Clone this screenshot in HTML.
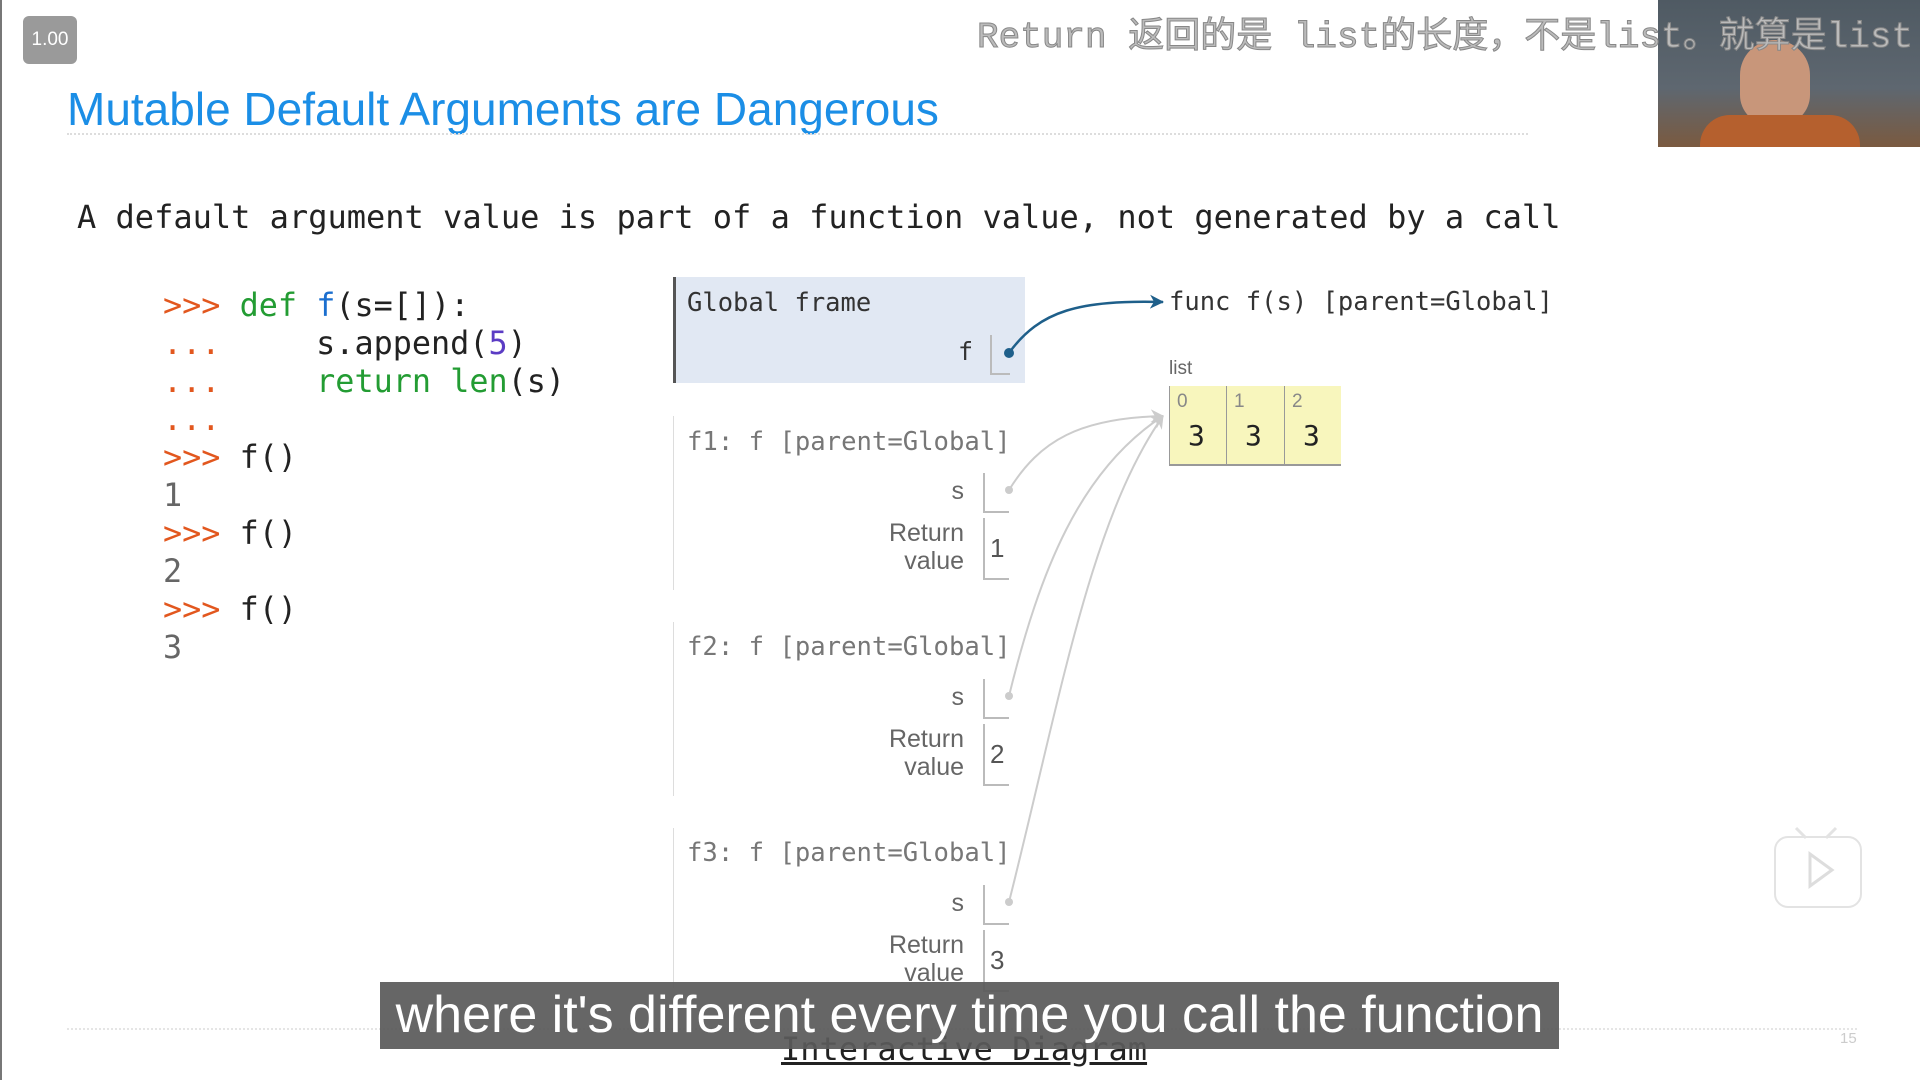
<!DOCTYPE html>
<html><head><meta charset="utf-8"><style>
body{margin:0;width:1920px;height:1080px;background:#fff;position:relative;overflow:hidden;font-family:"Liberation Sans",sans-serif}
.a{position:absolute;white-space:pre}
.m{font-family:"DejaVu Sans Mono","Liberation Mono",monospace}
.code{font-family:"DejaVu Sans Mono","Liberation Mono",monospace;font-size:31.8px;line-height:38px;color:#222}
.o{color:#e2571e}.g{color:#239c33}.b{color:#1b6fcf}.p{color:#5b3cc4}
.fl{font-family:"DejaVu Sans Mono","Liberation Mono",monospace;font-size:25.6px;color:#777}
.lab{font-family:"Liberation Sans",sans-serif;font-size:25px;color:#666;text-align:right}
.cell{position:absolute;border-left:2px solid #bbb;border-bottom:2px solid #bbb}
</style></head><body>
<div class="a" style="left:0;top:0;width:2px;height:1080px;background:#777"></div>
<div class="a" style="left:23px;top:16px;width:54px;height:48px;background:#9a9a9a;border-radius:6px;color:#fff;font-size:19px;text-align:center;line-height:48px">1.00</div>
<div class="a" style="left:67px;top:82px;font-size:46px;color:#1b8ee6">Mutable Default Arguments are Dangerous</div>
<div class="a" style="left:67px;top:133px;width:1461px;border-top:2px dotted #ddd"></div>
<div class="a" style="left:1658px;top:0;width:262px;height:147px;background:linear-gradient(180deg,#4f5a63 0%,#5e6770 60%,#7a5a40 100%)"></div>
<div class="a" style="left:1740px;top:40px;width:70px;height:85px;background:#c8967a;border-radius:35px 35px 30px 30px"></div>
<div class="a" style="left:1700px;top:115px;width:160px;height:32px;background:#b5602e;border-radius:30px 30px 0 0"></div>
<div class="a" style="left:977px;top:6px;font-family:'Liberation Mono','Noto Sans CJK SC',monospace;font-size:36px;color:#bbb;-webkit-text-stroke:1px #888">Return 返回的是 list的长度，不是list。就算是list</div>
<div class="a m" style="left:77px;top:198px;font-size:32px;color:#222">A default argument value is part of a function value, not generated by a call</div>
<div class="a code" style="left:163px;top:287px"><span class="o">&gt;&gt;&gt;</span> <span class="g">def</span> <span class="b">f</span>(s=[]):
<span class="o">...</span>     s.append(<span class="p">5</span>)
<span class="o">...</span>     <span class="g">return</span> <span class="g">len</span>(s)
<span class="o">...</span>
<span class="o">&gt;&gt;&gt;</span> f()
<span style="color:#666">1</span>
<span class="o">&gt;&gt;&gt;</span> f()
<span style="color:#666">2</span>
<span class="o">&gt;&gt;&gt;</span> f()
<span style="color:#666">3</span></div>
<div class="a" style="left:673px;top:277px;width:349px;height:106px;background:#e1e8f3;border-left:3px solid #555"></div>
<div class="a m" style="left:687px;top:288px;font-size:25.5px;color:#333">Global frame</div>
<div class="a m" style="left:958px;top:337px;font-size:25px;color:#333">f</div>
<div class="cell" style="left:990px;top:335px;width:18px;height:38px"></div>
<div class="a m" style="left:1169px;top:287px;font-size:25.5px;color:#333">func f(s) [parent=Global]</div>
<div class="a" style="left:1169px;top:358px;font-size:19px;color:#666">list</div>
<div class="a" style="left:1169px;top:386px;width:172px;height:78px;background:#f8f6bd;border-bottom:2px solid #999"></div>
<div class="a" style="left:1169px;top:386px;width:1px;height:78px;background:#999"></div>
<div class="a" style="left:1226px;top:386px;width:1px;height:78px;background:#999"></div>
<div class="a" style="left:1284px;top:386px;width:1px;height:78px;background:#999"></div>
<div class="a" style="left:1177px;top:391px;font-size:19px;color:#888">0</div>
<div class="a" style="left:1234px;top:391px;font-size:19px;color:#888">1</div>
<div class="a" style="left:1292px;top:391px;font-size:19px;color:#888">2</div>
<div class="a m" style="left:1188px;top:419px;font-size:28px;color:#222">3</div>
<div class="a m" style="left:1245px;top:419px;font-size:28px;color:#222">3</div>
<div class="a m" style="left:1303px;top:419px;font-size:28px;color:#222">3</div>

<div class="a" style="left:673px;top:416px;width:1px;height:174px;background:#ddd"></div>
<div class="a fl" style="left:687px;top:427px">f1: f [parent=Global]</div>
<div class="a lab" style="left:900px;top:477px;width:64px">s</div>
<div class="cell" style="left:983px;top:473px;width:24px;height:38px"></div>
<div class="a lab" style="left:860px;top:519px;width:104px;line-height:28px">Return
value</div>
<div class="cell" style="left:983px;top:518px;width:24px;height:60px"></div>
<div class="a" style="left:990px;top:533px;font-size:26px;color:#555">1</div>

<div class="a" style="left:673px;top:622px;width:1px;height:174px;background:#ddd"></div>
<div class="a fl" style="left:687px;top:632px">f2: f [parent=Global]</div>
<div class="a lab" style="left:900px;top:683px;width:64px">s</div>
<div class="cell" style="left:983px;top:679px;width:24px;height:38px"></div>
<div class="a lab" style="left:860px;top:725px;width:104px;line-height:28px">Return
value</div>
<div class="cell" style="left:983px;top:724px;width:24px;height:60px"></div>
<div class="a" style="left:990px;top:739px;font-size:26px;color:#555">2</div>

<div class="a" style="left:673px;top:828px;width:1px;height:160px;background:#ddd"></div>
<div class="a fl" style="left:687px;top:838px">f3: f [parent=Global]</div>
<div class="a lab" style="left:900px;top:889px;width:64px">s</div>
<div class="cell" style="left:983px;top:885px;width:24px;height:38px"></div>
<div class="a lab" style="left:860px;top:931px;width:104px;line-height:28px">Return
value</div>
<div class="cell" style="left:983px;top:930px;width:24px;height:60px"></div>
<div class="a" style="left:990px;top:945px;font-size:26px;color:#555">3</div>

<svg class="a" style="left:0;top:0" width="1920" height="1080">
<defs><marker id="ab" markerWidth="14" markerHeight="14" refX="13" refY="7" orient="auto" markerUnits="userSpaceOnUse"><path d="M0,0 L14,7 L0,14 L4,7z" fill="#1e5f8a"/></marker>
<marker id="ag" markerWidth="14" markerHeight="14" refX="12" refY="7" orient="auto" markerUnits="userSpaceOnUse"><path d="M0,0 L13,7 L0,14 L4,7z" fill="#ccc"/></marker></defs>
<circle cx="1009" cy="353" r="5" fill="#1e5f8a"/>
<path d="M1009,353 C1040,310 1080,300 1163,302" stroke="#1e5f8a" stroke-width="2.5" fill="none" marker-end="url(#ab)"/>
<circle cx="1009" cy="490" r="4" fill="#ccc"/><circle cx="1009" cy="696" r="4" fill="#ccc"/><circle cx="1009" cy="902" r="4" fill="#ccc"/>
<path d="M1009,490 C1040,440 1080,418 1163,416" stroke="#ccc" stroke-width="2" fill="none" marker-end="url(#ag)"/>
<path d="M1009,696 C1040,570 1080,470 1163,416" stroke="#ccc" stroke-width="2" fill="none" marker-end="url(#ag)"/>
<path d="M1009,902 C1060,700 1090,520 1163,416" stroke="#ccc" stroke-width="2" fill="none" marker-end="url(#ag)"/>
</svg>

<div class="a" style="left:67px;top:1028px;width:1790px;border-top:2px dotted #e5e5e5"></div>
<div class="a" style="left:1840px;top:1030px;font-size:15px;color:#ccc">15</div>
<div class="a m" style="left:781px;top:1030px;font-size:32px;color:#222;text-decoration:underline">Interactive Diagram</div>
<div class="a" style="left:380px;top:982px;width:1179px;height:67px;background:rgba(90,90,90,0.93);color:#fff;font-size:52px;text-align:center;line-height:67px">where it's different every time you call the function</div>
<div class="a" style="left:1774px;top:836px;width:84px;height:68px;border:2px solid #e3e3e3;border-radius:14px;background:#fff"></div>
<svg class="a" style="left:1774px;top:820px" width="90" height="90"><path d="M22,8 L32,18 M62,8 L52,18" stroke="#e3e3e3" stroke-width="3"/><path d="M36,34 L58,50 L36,66z" fill="none" stroke="#ddd" stroke-width="3"/></svg>
</body></html>
